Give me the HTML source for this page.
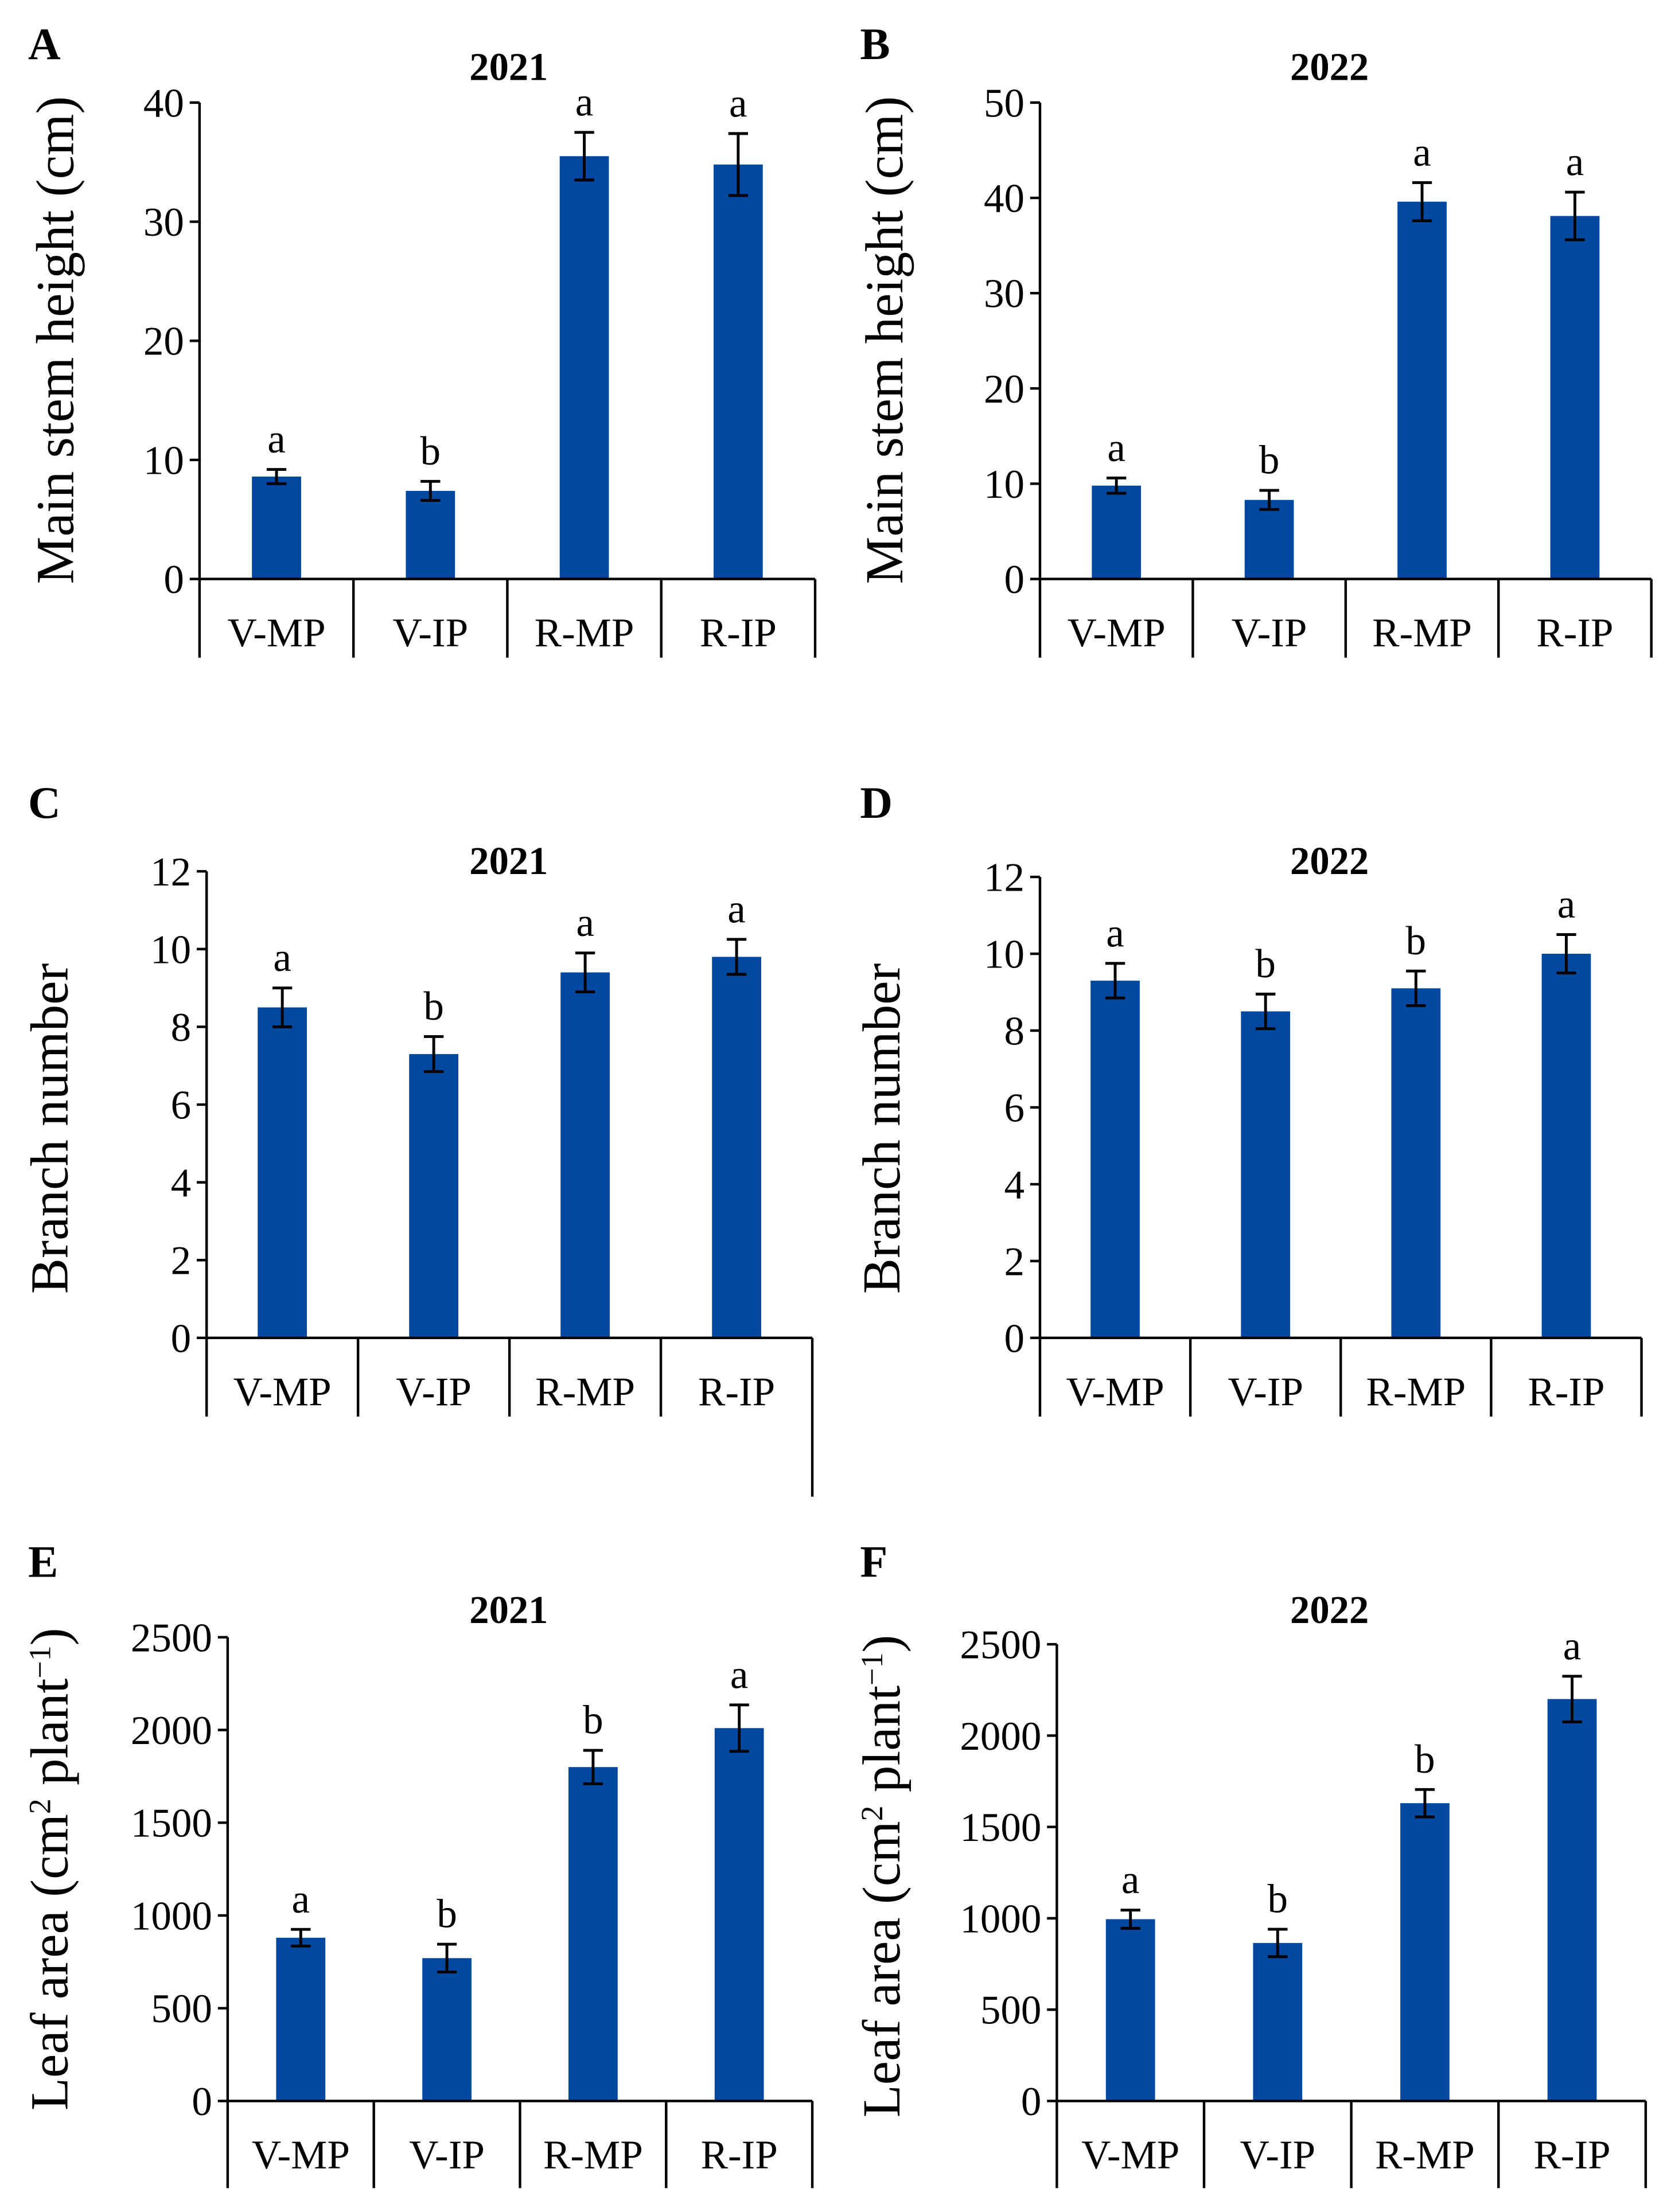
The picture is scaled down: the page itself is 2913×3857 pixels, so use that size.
<!DOCTYPE html>
<html><head><meta charset="utf-8"><style>
html,body{margin:0;padding:0;background:#fff;}
svg{display:block;}
text{font-family:"Liberation Serif","Times New Roman",serif;fill:#000;}
</style></head><body>
<svg id="fig" width="2913" height="3857" viewBox="0 0 1189 1574" preserveAspectRatio="none" xmlns="http://www.w3.org/2000/svg"></svg>
<script>
const categories = ["V-MP","V-IP","R-MP","R-IP"];
const valsA = [8.6, 7.4, 35.5, 34.8];
const errA = [0.6, 0.8, 2.0, 2.6];
const sigA = ["a","b","a","a"];
const ticksA = [0,10,20,30,40];
const valsB = [9.8, 8.3, 39.6, 38.1];
const errB = [0.8, 1.0, 2.0, 2.5];
const sigB = ["a","b","a","a"];
const ticksB = [0,10,20,30,40,50];
const valsC = [8.5, 7.3, 9.4, 9.8];
const errC = [0.5, 0.45, 0.5, 0.45];
const sigC = ["a","b","a","a"];
const ticksC = [0,2,4,6,8,10,12];
const valsD = [9.3, 8.5, 9.1, 10.0];
const errD = [0.45, 0.45, 0.45, 0.5];
const sigD = ["a","b","b","a"];
const ticksD = [0,2,4,6,8,10,12];
const valsE = [880, 770, 1800, 2010];
const errE = [45, 75, 90, 125];
const sigE = ["a","b","b","a"];
const ticksE = [0,500,1000,1500,2000,2500];
const valsF = [995, 865, 1630, 2200];
const errF = [50, 75, 75, 125];
const sigF = ["a","b","b","a"];
const ticksF = [0,500,1000,1500,2000,2500];

const svg = document.getElementById('fig');
const NS = "http://www.w3.org/2000/svg";
function mk(tag, attrs, parent){
  const e = document.createElementNS(NS, tag);
  for (const k in attrs) e.setAttribute(k, attrs[k]);
  (parent||svg).appendChild(e);
  return e;
}
function panel(cfg){
  const g = mk('g', {});
  
  
  const maxT = cfg.ticks[cfg.ticks.length-1];
  const y = v => cfg.y0 - (v/maxT)*(cfg.y0-cfg.yTop);
  const bw = (cfg.xr - cfg.x0)/categories.length;
  const xc = i => cfg.x0 + bw*(i+0.5);
  const L = mk('text', {x:cfg.lx, y:cfg.ly, 'font-size':32, 'font-weight':'bold'}, g);
  L.textContent = cfg.letter;
  
  
  const T = mk('text', {x:362 + cfg.off, y:cfg.ty, 'font-size':28, 'font-weight':'bold', 'text-anchor':'middle'}, g);
  T.textContent = cfg.title;
  
  
  const yl = mk('text', {transform:`translate(${cfg.ylx},${cfg.yly}) rotate(-90)`, 'font-size':38, 'text-anchor':'middle'}, g);
  yl.innerHTML = cfg.ylabel;
  
  
  cfg.vals.forEach((v,i)=>{
    const r = mk('rect', {x:xc(i)-17.5, y:y(v), width:35, height:cfg.y0-y(v), fill:'#0148a0'}, g);
    
    
    const e = cfg.err[i];
    const eb = mk('path', {d:`M${xc(i)},${y(v+e)}V${y(v-e)}M${xc(i)-7},${y(v+e)}H${xc(i)+7}M${xc(i)-7},${y(v-e)}H${xc(i)+7}`, stroke:'#000', 'stroke-width':2, fill:'none'}, g);
    
    
    const s = mk('text', {x:xc(i), y:y(v+e)-12, 'font-size':29, 'text-anchor':'middle'}, g);
    s.textContent = cfg.sig[i];
    
    
    const c = mk('text', {x:xc(i), y:cfg.y0+48, 'font-size':29, 'text-anchor':'middle'}, g);
    c.textContent = categories[i];
    
    
  });
  let d = `M${cfg.x0},${cfg.yTop}V${cfg.bottom}M${cfg.x0},${cfg.y0}H${cfg.xr}`;
  for (let i=1;i<=categories.length;i++){
    const xx = cfg.x0 + bw*i;
    d += `M${xx},${cfg.y0}V${(i===categories.length && cfg.lastExt) ? cfg.lastExt : cfg.bottom}`;
  }
  cfg.ticks.forEach(t=>{ d += `M${cfg.x0-7},${y(t)}H${cfg.x0}`; });
  const ax = mk('path', {d:d, stroke:'#000', 'stroke-width':1.8, fill:'none'}, g);
  
  
  cfg.ticks.forEach(t=>{
    const tt = mk('text', {x:cfg.x0-11, y:y(t)+10, 'font-size':29, 'text-anchor':'end'}, g);
    tt.textContent = t;
    
    
  });
}
const stem = 'Main stem height (cm)';
const leaf = 'Leaf area (cm<tspan baseline-shift="super" font-size="22">2</tspan> plant<tspan baseline-shift="super" font-size="22">−1</tspan>)';
panel({letter:'A', lx:20, ly:42, title:'2021', off:0, ty:57, x0:142, xr:580, y0:412, yTop:73, bottom:468, ticks:ticksA, vals:valsA, err:errA, sig:sigA, ylabel:stem, ylx:52, yly:242});
panel({letter:'B', lx:612, ly:42, title:'2022', off:584, ty:57, x0:740, xr:1175, y0:412, yTop:73, bottom:468, ticks:ticksB, vals:valsB, err:errB, sig:sigB, ylabel:stem, ylx:642, yly:242});
panel({letter:'C', lx:20, ly:582, title:'2021', off:0, ty:622, x0:147, xr:578, y0:952, yTop:620, bottom:1008, lastExt:1065, ticks:ticksC, vals:valsC, err:errC, sig:sigC, ylabel:'Branch number', ylx:48, yly:803});
panel({letter:'D', lx:612, ly:582, title:'2022', off:584, ty:622, x0:740, xr:1168, y0:952, yTop:624, bottom:1008, ticks:ticksD, vals:valsD, err:errD, sig:sigD, ylabel:'Branch number', ylx:640, yly:803});
panel({letter:'E', lx:20, ly:1122, title:'2021', off:0, ty:1155, x0:162, xr:578, y0:1495, yTop:1165, bottom:1557, ticks:ticksE, vals:valsE, err:errE, sig:sigE, ylabel:leaf, ylx:48, yly:1330});
panel({letter:'F', lx:612, ly:1122, title:'2022', off:584, ty:1155, x0:752, xr:1171, y0:1495, yTop:1170, bottom:1557, ticks:ticksF, vals:valsF, err:errF, sig:sigF, ylabel:leaf, ylx:640, yly:1335});
</script>
</body></html>
